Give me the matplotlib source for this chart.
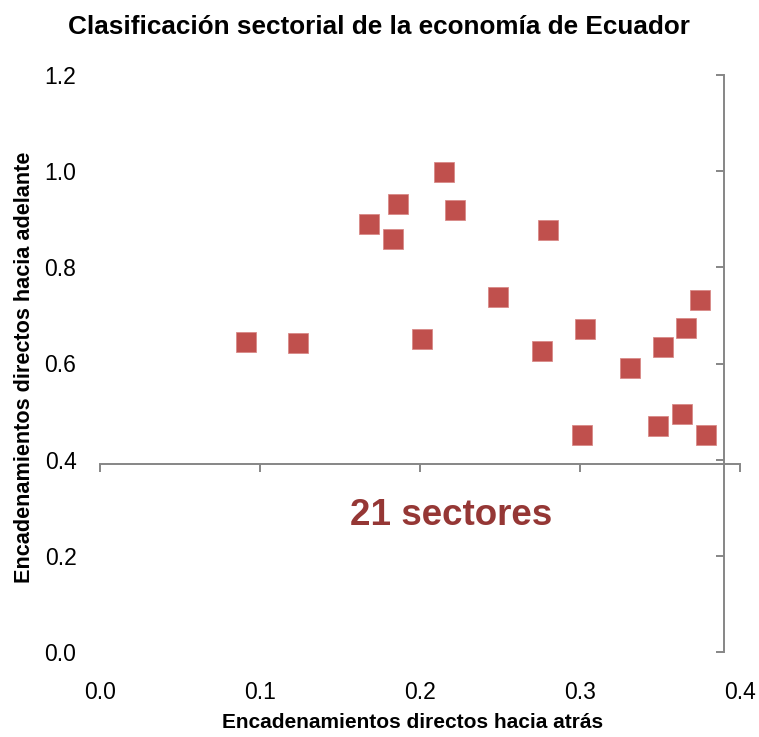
import matplotlib
matplotlib.use("Agg")
import matplotlib.pyplot as plt
from matplotlib import font_manager

# Encadenamientos directos hacia atrás (x) y hacia adelante (y), por sector
backward = [0.091, 0.124, 0.168, 0.186, 0.183, 0.215, 0.222, 0.201, 0.280, 0.249,
            0.276, 0.303, 0.301, 0.331, 0.352, 0.349, 0.366, 0.364, 0.375, 0.379]
forward = [0.645, 0.642, 0.891, 0.931, 0.858, 0.998, 0.919, 0.651, 0.878, 0.738,
           0.625, 0.672, 0.452, 0.591, 0.634, 0.470, 0.674, 0.495, 0.732, 0.452]

x_ticks = [0.0, 0.1, 0.2, 0.3, 0.4]
y_ticks = [0.0, 0.2, 0.4, 0.6, 0.8, 1.0, 1.2]
cross_x = 0.39   # where the vertical axis crosses
cross_y = 0.39   # where the horizontal axis crosses

title = "Clasificación sectorial de la economía de Ecuador"
xlabel = "Encadenamientos directos hacia atrás"
ylabel = "Encadenamientos directos hacia adelante"
note = "21 sectores"

names = {f.name for f in font_manager.fontManager.ttflist}
narrow = ["Liberation Sans Narrow"] if "Liberation Sans Narrow" in names else []
narrow_family = narrow + ["Liberation Sans", "DejaVu Sans"]
wide_family = ["Liberation Sans", "DejaVu Sans"]

axis_grey = "#868686"
marker_red = "#C0504D"

fig = plt.figure(figsize=(7.59, 7.37), dpi=100)
rect = [100 / 759, 85 / 737, 640 / 759, 577 / 737]

# axes with the crossing spines and tick marks
ax = fig.add_axes(rect)
ax.set_xlim(0, 0.4)
ax.set_ylim(0, 1.2)
for side in ["top", "right"]:
    ax.spines[side].set_visible(False)
ax.spines["left"].set_position(("data", cross_x))
ax.spines["bottom"].set_position(("data", cross_y))
for side in ["left", "bottom"]:
    ax.spines[side].set_color(axis_grey)
    ax.spines[side].set_linewidth(1.4)
ax.set_xticks(x_ticks)
ax.set_yticks(y_ticks)
ax.tick_params(axis="both", direction="out", length=6, width=1.4, color=axis_grey,
               labelleft=False, labelbottom=False)

ax.plot(backward, forward, linestyle="none", marker="s", markersize=14.5,
        markerfacecolor=marker_red, markeredgecolor="#D98A88", markeredgewidth=0.6,
        zorder=3)

ax.text(0.2195, 0.284, note, ha="center", va="center", fontsize=26.5,
        fontweight="bold", color="#953735", family=wide_family)

# overlay axes carrying the tick labels at the low position
lab = fig.add_axes(rect, frameon=False)
lab.set_xlim(0, 0.4)
lab.set_ylim(0, 1.2)
lab.set_xticks(x_ticks)
lab.set_yticks(y_ticks)
lab.set_xticklabels([f"{v:.1f}" for v in x_ticks])
lab.set_yticklabels([f"{v:.1f}" for v in y_ticks])
lab.tick_params(axis="both", length=0, labelsize=16.5)
lab.tick_params(axis="x", pad=21)
lab.tick_params(axis="y", pad=17)
for t in lab.get_xticklabels() + lab.get_yticklabels():
    t.set_family(narrow_family)
lab.patch.set_visible(False)

fig.text(379 / 759, 1 - 27 / 737, title, ha="center", va="center", fontsize=18.8,
         fontweight="bold", family=narrow_family)
fig.text(413 / 759, 1 - 723 / 737, xlabel, ha="center", va="center", fontsize=15,
         fontweight="bold", family=narrow_family)
fig.text(25 / 759, 1 - 367 / 737, ylabel, ha="center", va="center", fontsize=15.6,
         fontweight="bold", rotation=90, family=narrow_family)

fig.savefig("out.png", dpi=100)
